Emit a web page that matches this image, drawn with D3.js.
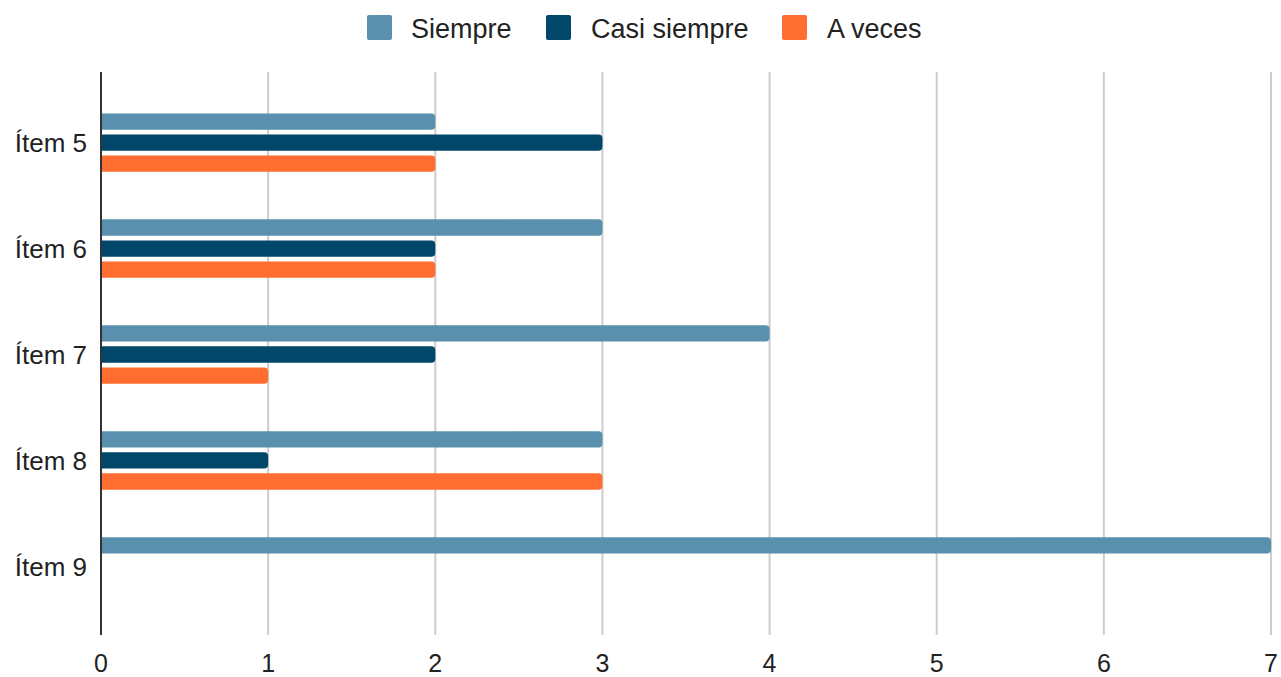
<!DOCTYPE html>
<html><head><meta charset="utf-8">
<script src="https://cdn.jsdelivr.net/npm/d3@7/dist/d3.min.js"></script>
<style>body{margin:0;background:#fff}svg{display:block}text{font-family:Arial,"Liberation Sans",sans-serif;fill:#222}</style>
</head><body><svg id="c" width="1281" height="677"></svg>
<script>
const categories = ["Ítem 5","Ítem 6","Ítem 7","Ítem 8","Ítem 9"];
const seriesNames = ["Siempre","Casi siempre","A veces"];
const siempre = [2,3,4,3,7];
const casiSiempre = [3,2,2,1,0];
const aVeces = [2,2,1,3,0];
const xTicks = [0,1,2,3,4,5,6,7];
const colors = ["#5990ae","#01476a","#ff6d31"];
const seriesValues = [siempre, casiSiempre, aVeces];

(function(){
const svg = d3.select("#c");
const pl = 101, pr = 1271, pt = 72, pb = 635;
const x = d3.scaleLinear().domain([0,7]).range([pl,pr]);
const y = d3.scaleBand().domain(categories).range([pt+1,pb+1]).paddingOuter(0.156).paddingInner(0);
const inner = d3.scaleBand().domain(seriesNames).range([-33.9,33.9]).padding(0.226);

svg.append("g").selectAll("line").data(xTicks.filter(d=>d>0)).join("line")
  .attr("x1",d=>x(d)).attr("x2",d=>x(d)).attr("y1",pt).attr("y2",pb)
  .attr("stroke","#cccccc").attr("stroke-width",2);

const r = 4;
function barPath(x0,x1,y0,h){
  if (x1 - x0 <= 0) return "";
  const rr = Math.min(r, (x1-x0), h/2);
  return `M${x0},${y0}H${x1-rr}Q${x1},${y0} ${x1},${y0+rr}V${y0+h-rr}Q${x1},${y0+h} ${x1-rr},${y0+h}H${x0}Z`;
}
seriesNames.forEach((s,si)=>{
  svg.append("g").selectAll("path").data(categories.map((c,i)=>({c,v:seriesValues[si][i]}))).join("path")
    .attr("d",d=>barPath(x(0), x(d.v), y(d.c)+y.bandwidth()/2+inner(s), inner.bandwidth()))
    .attr("fill",colors[si]);
});

svg.append("line").attr("x1",pl).attr("x2",pl).attr("y1",pt).attr("y2",pb)
  .attr("stroke","#333").attr("stroke-width",2);

svg.append("g").selectAll("text").data(categories).join("text")
  .attr("x",87).attr("y",d=>y(d)+y.bandwidth()/2).attr("dy","0.36em")
  .attr("text-anchor","end").attr("font-size",26).text(d=>d);

svg.append("g").selectAll("text").data(xTicks).join("text")
  .attr("x",d=>x(d)).attr("y",671.5)
  .attr("text-anchor","middle").attr("font-size",25).text(d=>d);

const legendItems = [{n:seriesNames[0],sx:367,tx:411},{n:seriesNames[1],sx:546,tx:591},{n:seriesNames[2],sx:782,tx:827}];
const lg = svg.append("g");
legendItems.forEach((it,i)=>{
  lg.append("rect").attr("x",it.sx).attr("y",15).attr("width",25).attr("height",25).attr("rx",2).attr("fill",colors[i]);
  lg.append("text").attr("x",it.tx).attr("y",28).attr("dy","0.36em").attr("font-size",27).text(it.n);
});
})();
</script></body></html>
